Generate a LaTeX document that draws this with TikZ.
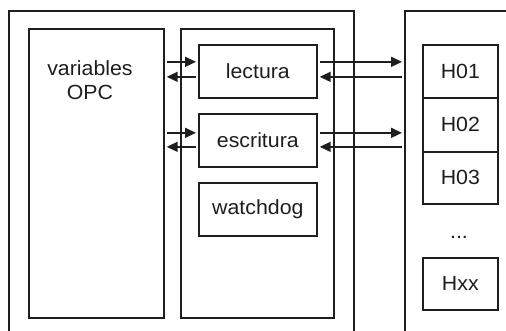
\documentclass[tikz,border=0pt]{standalone}
\usepackage{fontspec}
\setmainfont{Liberation Sans}[FakeStretch=1.04]
\usetikzlibrary{arrows.meta,calc}
\definecolor{ink}{HTML}{1E1E1E}
\tikzset{
  box/.style={draw=ink, line width=1.7pt, rectangle, inner sep=0pt, text=ink},
  arr/.style={draw=ink, line width=1.5pt, -{Triangle[length=11pt,width=10pt]}},
  txt/.style={text=ink, inner sep=0pt, align=center},
}
\begin{document}
\begin{tikzpicture}[x=1pt, y=-1pt, font=\fontsize{20.5}{24}\selectfont]
  \clip (0,0) rectangle (506,331);
  \fill[white] (0,0) rectangle (506,331);

  % outer frames (run past the lower and right page edges)
  \node[box, anchor=north west, minimum width=345pt, minimum height=360pt] (server) at (8,10) {};
  \node[box, anchor=north west, minimum width=150pt, minimum height=360pt] (bus) at (404,10) {};

  % OPC variables block
  \node[box, anchor=north west, minimum width=135pt, minimum height=289pt] (vars) at (28,28) {};
  \node[txt] (varslbl) at (90,80) {variables\\OPC};

  % driver block with its tasks
  \node[box, anchor=north west, minimum width=153pt, minimum height=289pt] (driver) at (180,28) {};
  \node[box, anchor=north west, minimum width=118pt, minimum height=53pt] (lectura) at (198,44) {lectura};
  \node[box, anchor=north west, minimum width=118pt, minimum height=53pt] (escritura) at (198,113) {escritura};
  \node[box, anchor=north west, minimum width=118pt, minimum height=53pt] (watchdog) at (198,182) {watchdog};

  % registers
  \node[box, anchor=north west, minimum width=75pt, minimum height=53pt] (h01) at (422,44) {H01};
  \node[box, anchor=north west, minimum width=75pt, minimum height=54pt] (h02) at (422,97) {H02};
  \node[box, anchor=north west, minimum width=75pt, minimum height=52pt] (h03) at (422,151) {H03};
  \node[txt] (dots) at (459,237) {...};
  \node[box, anchor=north west, minimum width=75pt, minimum height=52pt] (hxx) at (422,257) {Hxx};

  % arrow levels
  \coordinate (lup) at ($(lectura.west)+(0,9.5pt)$);
  \coordinate (ldn) at ($(lectura.west)+(0,-5.5pt)$);
  \coordinate (eup) at ($(escritura.west)+(0,7.5pt)$);
  \coordinate (edn) at ($(escritura.west)+(0,-6.5pt)$);

  % variables <-> tasks
  \draw[arr] ([xshift=2pt]vars.east |- lup) -- ([xshift=-2pt]lup);
  \draw[arr] ([xshift=-2pt]ldn) -- ([xshift=2pt]vars.east |- ldn);
  \draw[arr] ([xshift=2pt]vars.east |- eup) -- ([xshift=-2pt]eup);
  \draw[arr] ([xshift=-2pt]edn) -- ([xshift=2pt]vars.east |- edn);

  % tasks <-> registers
  \draw[arr] ([xshift=2pt]lectura.east |- lup) -- ([xshift=-2pt]bus.west |- lup);
  \draw[arr] ([xshift=-2pt]bus.west |- ldn) -- ([xshift=2pt]lectura.east |- ldn);
  \draw[arr] ([xshift=2pt]escritura.east |- eup) -- ([xshift=-2pt]bus.west |- eup);
  \draw[arr] ([xshift=-2pt]bus.west |- edn) -- ([xshift=2pt]escritura.east |- edn);
\end{tikzpicture}
\end{document}
